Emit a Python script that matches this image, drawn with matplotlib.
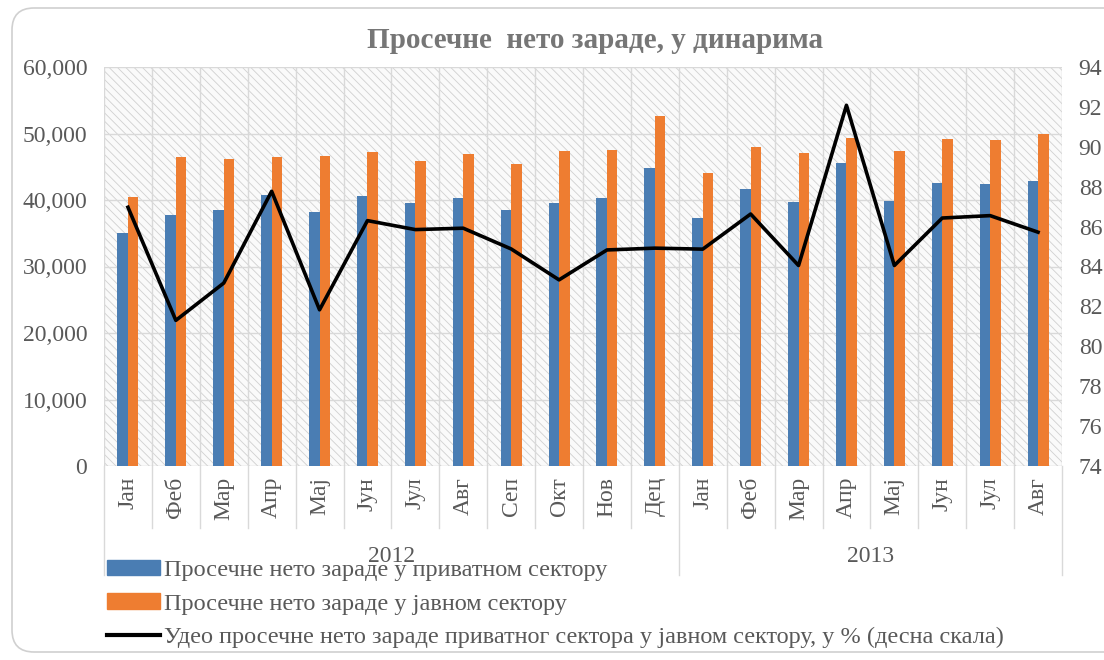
import matplotlib
matplotlib.use("Agg")
import matplotlib.pyplot as plt
from matplotlib.patches import Rectangle, FancyBboxPatch
from matplotlib.lines import Line2D
from matplotlib.transforms import IdentityTransform, blended_transform_factory
import numpy as np

months = ['Јан', 'Феб', 'Мар', 'Апр', 'Мај', 'Јун', 'Јул', 'Авг', 'Сеп', 'Окт', 'Нов', 'Дец',
          'Јан', 'Феб', 'Мар', 'Апр', 'Мај', 'Јун', 'Јул', 'Авг']
years = ['2012', '2013']
private = [35100, 37700, 38450, 40700, 38250, 40550, 39550, 40300, 38450, 39600, 40350, 44750,
           37350, 41650, 39750, 45500, 39900, 42550, 42400, 42900]
public = [40500, 46400, 46150, 46400, 46600, 47150, 45850, 46950, 45350, 47350, 47550, 52650,
          44050, 47950, 47100, 49350, 47350, 49150, 48950, 49900]
share = [86.97, 81.3, 83.17, 87.77, 81.83, 86.3, 85.85, 85.92, 84.88, 83.33, 84.83, 84.92,
         84.87, 86.63, 84.05, 92.08, 84.05, 86.43, 86.55, 85.72]

lbl_private = 'Просечне нето зараде у приватном сектору'
lbl_public = 'Просечне нето зараде у јавном сектору'
lbl_share = 'Удео просечне нето зараде приватног сектора у јавном сектору, у % (десна скала)'

plt.rcParams['font.family'] = ['Liberation Serif', 'DejaVu Serif']
plt.rcParams['hatch.linewidth'] = 0.6
plt.rcParams['hatch.color'] = '#d0d0d0'

blue = '#4a7db3'
orange = '#ee7d31'
gray = '#595959'

W, H = 1104, 660
fig = plt.figure(figsize=(W / 100, H / 100), dpi=100)

# rounded outer frame
frame = FancyBboxPatch((12, 8), 1120, 644, boxstyle='round,pad=0,rounding_size=22',
                       transform=IdentityTransform(), facecolor='none',
                       edgecolor='#d0d0d0', lw=1.2, zorder=-1)
fig.patches.append(frame)

L, R, T, B = 104, 1062, 67, 466
ax = fig.add_axes([L / W, 1 - B / H, (R - L) / W, (B - T) / H])
ax.set_facecolor('none')
ax.add_patch(Rectangle((0, 0), 1, 1, transform=ax.transAxes, facecolor='#fafafa',
                       edgecolor='#d0d0d0', hatch='\\\\\\\\', lw=0, zorder=0))

x = np.arange(len(months))
w = 0.22
ax.bar(x - w / 2, private, w, color=blue, zorder=3)
ax.bar(x + w / 2, public, w, color=orange, zorder=3)
ax.set_xlim(-0.5, len(months) - 0.5)
ax.set_ylim(0, 60000)
ax.set_yticks(np.arange(0, 60001, 10000))
ax.set_yticklabels(['{:,}'.format(v) for v in range(0, 60001, 10000)])
ax.set_xticks(x)
ax.set_xticklabels(months, rotation=90)
ax.tick_params(axis='x', length=0, pad=8, labelsize=17, colors=gray)
ax.tick_params(axis='y', length=0, pad=12, labelsize=17, colors=gray)
for s in ax.spines.values():
    s.set_visible(False)
ax.axhline(0, color='#d0d0d0', lw=1, zorder=2)
for v in range(10000, 60001, 10000):
    ax.axhline(v, color='#d9d9d9', lw=1, zorder=1)

# category separators inside plot and below axis
trans = blended_transform_factory(ax.transData, ax.transAxes)
for b in np.arange(-0.5, len(months), 1.0):
    ax.plot([b, b], [0, 1], transform=trans, color='#d9d9d9', lw=1, zorder=1)
    bottom = -(575 - B) / (B - T) if b in (-0.5, 11.5, 19.5) else -(528 - B) / (B - T)
    ax.plot([b, b], [0, bottom], transform=trans, color='#d9d9d9', lw=1, clip_on=False)
for i, yr in enumerate(years):
    mid = 5.5 if i == 0 else 15.5
    ax.text(mid, -(557 - B) / (B - T), yr, transform=trans, ha='center', va='center',
            fontsize=17, color=gray)

ax2 = ax.twinx()
ax2.plot(x, share, color='black', lw=2.6, zorder=5)
ax2.set_ylim(74, 94)
ax2.set_yticks(np.arange(74, 95, 2))
ax2.tick_params(axis='y', length=0, pad=12, labelsize=17, colors=gray)
for s in ax2.spines.values():
    s.set_visible(False)

fig.text(595 / W, 1 - 40 / H, 'Просечне  нето зараде, у динарима', ha='center', va='center',
         fontsize=21, fontweight='bold', color='#767676')

handles = [Rectangle((0, 0), 1, 1, color=blue), Rectangle((0, 0), 1, 1, color=orange),
           Line2D([], [], color='black', lw=3)]
fig.legend(handles, [lbl_private, lbl_public, lbl_share], loc='upper left',
           bbox_to_anchor=(107 / W, 1 - 560 / H), frameon=False, fontsize=17.5,
           borderpad=0, borderaxespad=0,
           handlelength=2.2, handleheight=0.6, handletextpad=0.15, labelspacing=0.5,
           labelcolor=gray)

fig.savefig('out.png', dpi=100)
